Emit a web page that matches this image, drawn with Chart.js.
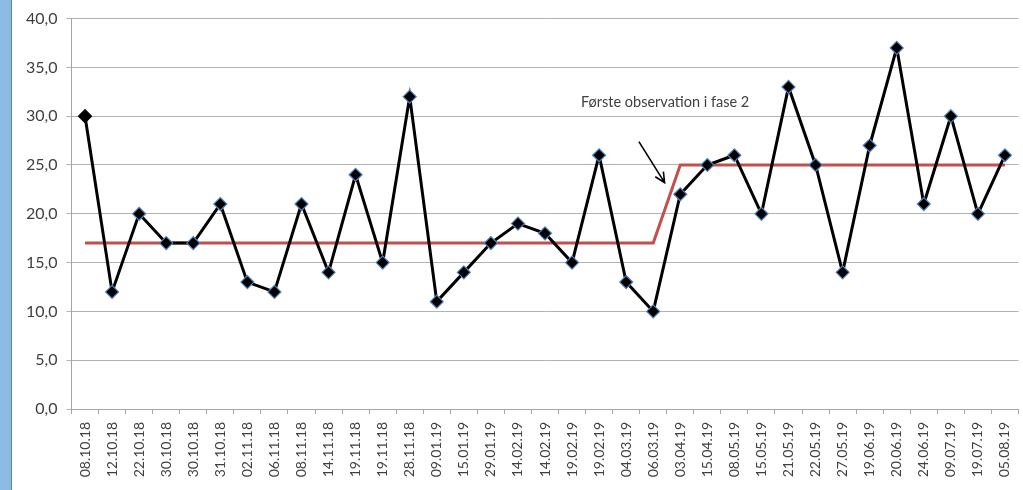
<!DOCTYPE html>
<html>
<head>
<meta charset="utf-8">
<script src="https://cdn.jsdelivr.net/npm/chart.js@4.4.1/dist/chart.umd.min.js"></script>
<style>
  html, body { margin: 0; padding: 0; background: #fff; }
  #strip { position: absolute; left: 0; top: 0; width: 11px; height: 490px; background: #8DBBE4; border-right: 1px solid #6b7f93; }
  #wrap { position: absolute; left: 0; top: 0; width: 1023px; height: 490px; }
</style>
</head>
<body>
<div id="strip"></div>
<div id="wrap"><canvas id="c"></canvas></div>
<script>
const categories = ["08.10.18","12.10.18","22.10.18","30.10.18","30.10.18","31.10.18","02.11.18","06.11.18","08.11.18","14.11.18","19.11.18","19.11.18","28.11.18","09.01.19","15.01.19","29.01.19","14.02.19","14.02.19","19.02.19","19.02.19","04.03.19","06.03.19","03.04.19","15.04.19","08.05.19","15.05.19","21.05.19","22.05.19","27.05.19","19.06.19","20.06.19","24.06.19","09.07.19","19.07.19","05.08.19"];
const observations = [30,12,20,17,17,21,13,12,21,14,24,15,32,11,14,17,19,18,15,26,13,10,22,25,26,20,33,25,14,27,37,21,30,20,26];
const phaseMedian = [17,17,17,17,17,17,17,17,17,17,17,17,17,17,17,17,17,17,17,17,17,17,25,25,25,25,25,25,25,25,25,25,25,25,25];
const yTickValues = [0,5,10,15,20,25,30,35,40];
const annotationText = "Første observation i fase 2";

const textColor = "#404040";
const fontFamily = "Lato, 'Open Sans', sans-serif";

const annotationPlugin = {
  id: 'annot',
  afterDatasetsDraw(chart) {
    const x = chart.scales.x, y = chart.scales.y, ctx = chart.ctx;
    ctx.save();
    ctx.font = "14.5px " + fontFamily;
    ctx.fillStyle = textColor;
    ctx.textBaseline = 'middle';
    ctx.textAlign = 'left';
    ctx.fillText(annotationText, x.getPixelForValue(18.33), y.getPixelForValue(31.45));
    const x1 = x.getPixelForValue(20.47), y1 = y.getPixelForValue(27.4);
    const x2 = x.getPixelForValue(21.42), y2 = y.getPixelForValue(23.2);
    ctx.strokeStyle = '#000';
    ctx.lineWidth = 1.6;
    ctx.beginPath();
    ctx.moveTo(x1, y1); ctx.lineTo(x2, y2);
    const ang = Math.atan2(y2 - y1, x2 - x1);
    const L = 11;
    ctx.moveTo(x2 - L * Math.cos(ang - 0.45), y2 - L * Math.sin(ang - 0.45));
    ctx.lineTo(x2, y2);
    ctx.lineTo(x2 - L * Math.cos(ang + 0.45), y2 - L * Math.sin(ang + 0.45));
    ctx.stroke();
    ctx.restore();
  }
};

new Chart(document.getElementById('c'), {
  type: 'line',
  data: {
    labels: categories,
    datasets: [
      {
        data: observations,
        borderColor: '#000',
        borderWidth: 3,
        pointStyle: 'rectRot',
        pointRadius: 6.5,
        pointHoverRadius: 6.5,
        pointBackgroundColor: '#000',
        pointBorderColor: observations.map((v, i) => i === 0 ? '#000' : '#4F81BD'),
        pointBorderWidth: 1.2,
        tension: 0,
        order: 0
      },
      {
        data: phaseMedian,
        borderColor: '#C0504D',
        borderWidth: 3,
        pointRadius: 0,
        pointHoverRadius: 0,
        tension: 0,
        order: 1
      }
    ]
  },
  options: {
    responsive: true,
    maintainAspectRatio: false,
    animation: false,
    events: [],
    layout: { autoPadding: false, padding: { left: 12, right: 4.5, top: 16, bottom: 0 } },
    plugins: { legend: { display: false }, tooltip: { enabled: false } },
    scales: {
      x: {
        offset: true,
        afterFit(scale) { scale.height = 81; },
        grid: { display: true, drawOnChartArea: false, offset: true, tickLength: 5, color: '#A6A6A6' },
        border: { display: true, color: '#A6A6A6' },
        ticks: {
          autoSkip: false, maxRotation: 90, minRotation: 90, padding: 8,
          color: textColor, font: { family: fontFamily, size: 14, lineHeight: 0.5 }
        }
      },
      y: {
        min: 0, max: 40,
        afterFit(scale) { scale.width = 59.5; },
        afterBuildTicks(scale) { scale.ticks = yTickValues.map(v => ({ value: v })); },
        grid: { color: '#B3B3B3', tickLength: 5, lineWidth: 1 },
        border: { display: true, color: '#A6A6A6' },
        ticks: {
          padding: 9,
          color: textColor, font: { family: fontFamily, size: 16 },
          callback: v => v.toFixed(1).replace('.', ',')
        }
      }
    }
  },
  plugins: [annotationPlugin]
});
</script>
</body>
</html>
